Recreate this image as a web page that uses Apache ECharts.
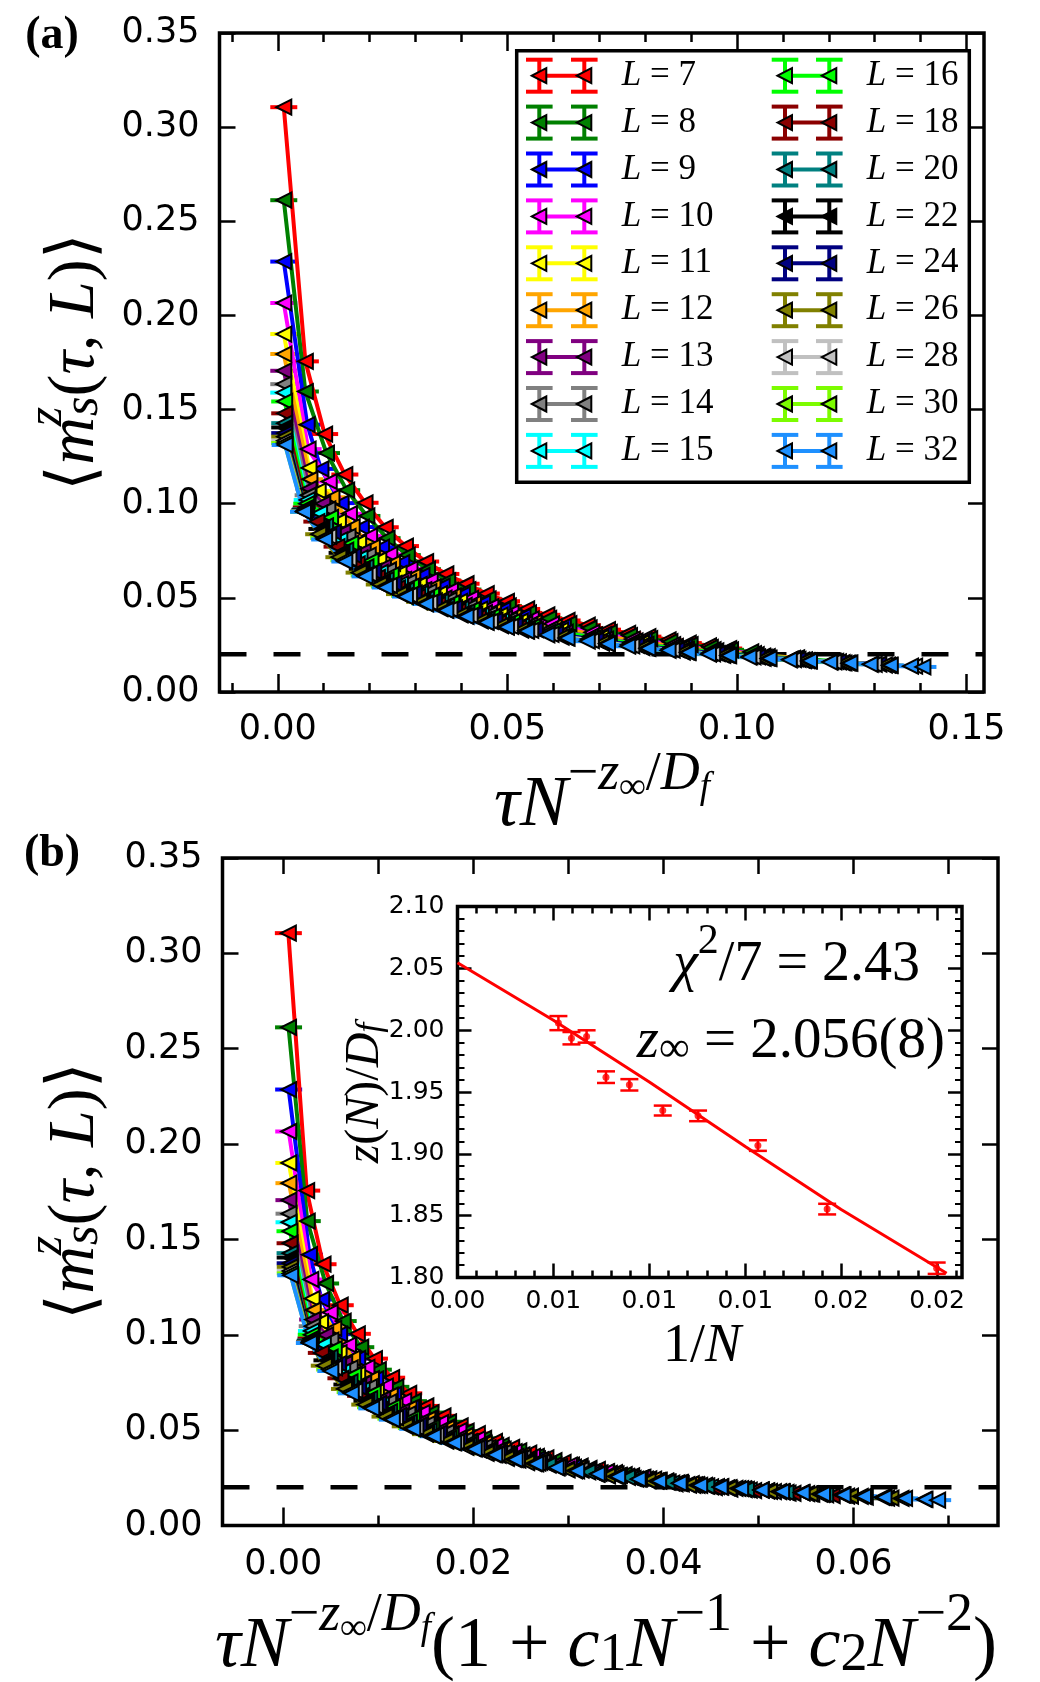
<!DOCTYPE html>
<html>
<head>
<meta charset="utf-8">
<script src="https://cdn.jsdelivr.net/npm/echarts@6/dist/echarts.min.js"></script>
<style>
  html, body { margin: 0; padding: 0; background: #fff; }
  #chart { width: 1040px; height: 1682px; }
</style>
</head>
<body>
<div id="chart"></div>
<script>
// system sizes and their (matplotlib) colours
const sizes = [7, 8, 9, 10, 11, 12, 13, 14, 15, 16, 18, 20, 22, 24, 26, 28, 30, 32];
const colors = ['#ff0000', '#008000', '#0000ff', '#ff00ff', '#ffff00', '#ffa500', '#800080', '#808080', '#00ffff',
  '#00ff00', '#8b0000', '#008080', '#000000', '#000080', '#808000', '#c0c0c0', '#7cfc00', '#1e90ff'];

// panel (a): tau N^{-z/Df}, one row per L
const xScaledA = [
  [.0013,.006,.0102,.0146,.019,.0234,.0278,.0322,.0366,.041,.0454,.0498,.0542,.0586,.063,.0674,.0718,.0762,.0806,.085,.0894,.0938,.0982],
  [.0013,.006,.0106,.015,.0194,.0238,.0282,.0326,.037,.0414,.0458,.0502,.0546,.059,.0634,.0678,.0722,.0766,.081,.0854,.0898,.0942,.0986,.103],
  [.0013,.0064,.0094,.0138,.0182,.0226,.027,.0314,.0358,.0402,.0446,.049,.0534,.0622,.071,.0798,.0886,.0974],
  [.0013,.0066,.0112,.0156,.02,.0244,.0288,.0332,.0376,.042,.0464,.0508,.0552,.0596,.0684,.0772,.086,.0948,.1036],
  [.0013,.0068,.0088,.0132,.0176,.022,.0264,.0308,.0352,.0396,.044,.0484,.0528,.0616,.0704,.0792,.088,.0968,.1056],
  [.0013,.007,.0118,.0162,.0206,.025,.0294,.0338,.0382,.0426,.047,.0514,.0558,.0602,.069,.0778,.0866,.0954,.1042,.113],
  [.0013,.0068,.0098,.0142,.0186,.023,.0274,.0318,.0362,.0406,.045,.0494,.0538,.0626,.0714,.0802,.089,.0978,.1066],
  [.0013,.0066,.0109,.0153,.0197,.0241,.0285,.0329,.0373,.0417,.0461,.0505,.0549,.0593,.0681,.0769,.0857,.0945,.1033,.1121,.1209],
  [.0013,.0064,.0091,.0135,.0179,.0223,.0267,.0311,.0355,.0399,.0443,.0487,.0531,.0619,.0707,.0795,.0883,.0971,.1059,.1147],
  [.0015,.0063,.0115,.0159,.0203,.0247,.0291,.0335,.0379,.0423,.0467,.0511,.0555,.0599,.0687,.0775,.0863,.0951,.1039,.1127,.1215],
  [.0015,.0062,.0085,.0129,.0173,.0217,.0261,.0305,.0349,.0393,.0437,.0481,.0525,.0613,.0701,.0789,.0877,.0965,.1053,.1141,.1229],
  [.0015,.006,.0104,.0148,.0192,.0236,.028,.0324,.0368,.0412,.0456,.05,.0544,.0588,.0676,.0764,.0852,.094,.1028,.1116,.1204,.1292],
  [.0015,.0059,.0096,.014,.0184,.0228,.0272,.0316,.036,.0404,.0448,.0492,.0536,.0624,.0712,.08,.0888,.0976,.1064,.1152,.124,.1328],
  [.0015,.0058,.0121,.0165,.0209,.0253,.0297,.0341,.0385,.0429,.0473,.0517,.0561,.0605,.0693,.0781,.0869,.0957,.1045,.1133,.1221,.1309],
  [.0015,.0058,.0089,.0133,.0177,.0221,.0265,.0309,.0353,.0397,.0441,.0485,.0529,.0617,.0705,.0793,.0881,.0969,.1057,.1145,.1233,.1321],
  [.0015,.0057,.0111,.0155,.0199,.0243,.0287,.0331,.0375,.0419,.0463,.0507,.0551,.0595,.0683,.0771,.0859,.0947,.1035,.1123,.1211,.1299,.1387],
  [.0015,.0057,.01,.0144,.0188,.0232,.0276,.032,.0364,.0408,.0452,.0496,.054,.0628,.0716,.0804,.0892,.098,.1068,.1156,.1244,.1332],
  [.0016,.0056,.0102,.0146,.019,.0234,.0278,.0322,.0366,.041,.0454,.0498,.0542,.0586,.063,.0674,.0718,.0762,.0806,.085,.0894,.0938,.0982,.1026,.107,.1114,.1158,.1202,.1246,.129,.1334,.1378,.1405]
];

// panel (b): tau N^{-z/Df}(1 + c1/N + c2/N^2)
const xScaledB = [
  [.00053,.00246,.00418,.00599,.00779,.00959,.0114,.0132,.015,.0168,.01861,.02042,.02222,.02403,.02583,.02763,.02944,.03124,.03305,.03485,.03665,.03846,.04026],
  [.00055,.00252,.00445,.0063,.00815,.01,.01184,.01369,.01554,.01739,.01924,.02108,.02293,.02478,.02663,.02848,.03032,.03217,.03402,.03587,.03772,.03956,.04141,.04326],
  [.00056,.00275,.00404,.00593,.00783,.00972,.01161,.0135,.01539,.01729,.01918,.02107,.02296,.02675,.03053,.03431,.0381,.04188],
  [.00057,.0029,.00493,.00686,.0088,.01074,.01267,.01461,.01654,.01848,.02042,.02235,.02429,.02622,.0301,.03397,.03784,.04171,.04558],
  [.00058,.00303,.00392,.00587,.00783,.00979,.01175,.01371,.01566,.01762,.01958,.02154,.0235,.02741,.03133,.03524,.03916,.04308,.04699],
  [.00059,.00315,.00531,.00729,.00927,.01125,.01323,.01521,.01719,.01917,.02115,.02313,.02511,.02709,.03105,.03501,.03897,.04293,.04689,.05085],
  [.00059,.00309,.00446,.00646,.00846,.01047,.01247,.01447,.01647,.01847,.02048,.02248,.02448,.02848,.03249,.03649,.0405,.0445,.0485],
  [.0006,.00304,.00501,.00704,.00906,.01109,.01311,.01513,.01716,.01918,.02121,.02323,.02525,.02728,.03133,.03537,.03942,.04347,.04752,.05157,.05561],
  [.0006,.00296,.00421,.00625,.00829,.01032,.01236,.0144,.01644,.01847,.02051,.02255,.02459,.02866,.03273,.03681,.04088,.04496,.04903,.05311],
  [.0007,.00294,.00536,.00741,.00946,.01151,.01356,.01561,.01766,.01971,.02176,.02381,.02586,.02791,.03201,.03612,.04022,.04432,.04842,.05252,.05662],
  [.00071,.00291,.004,.00606,.00813,.0102,.01227,.01434,.0164,.01847,.02054,.02261,.02468,.02881,.03295,.03708,.04122,.04536,.04949,.05363,.05776],
  [.00071,.00284,.00493,.00702,.0091,.01119,.01327,.01536,.01744,.01953,.02161,.0237,.02579,.02787,.03204,.03621,.04038,.04456,.04873,.0529,.05707,.06124],
  [.00072,.00282,.00459,.00669,.0088,.0109,.013,.0151,.01721,.01931,.02141,.02352,.02562,.02983,.03403,.03824,.04245,.04665,.05086,.05507,.05927,.06348],
  [.00072,.00279,.00582,.00794,.01005,.01217,.01429,.0164,.01852,.02063,.02275,.02487,.02698,.0291,.03333,.03757,.0418,.04603,.05026,.0545,.05873,.06296],
  [.00073,.00281,.00431,.00644,.00857,.0107,.01283,.01496,.01709,.01921,.02134,.02347,.0256,.02986,.03412,.03838,.04264,.0469,.05116,.05542,.05968,.06394],
  [.00073,.00277,.00539,.00753,.00967,.01181,.01395,.01609,.01823,.02036,.0225,.02464,.02678,.02892,.03319,.03747,.04175,.04602,.0503,.05458,.05885,.06313,.06741],
  [.00073,.00278,.00488,.00703,.00917,.01132,.01347,.01562,.01776,.01991,.02206,.0242,.02635,.03065,.03494,.03924,.04353,.04782,.05212,.05641,.06071,.065],
  [.00078,.00274,.005,.00715,.00931,.01147,.01362,.01578,.01793,.02009,.02225,.0244,.02656,.02871,.03087,.03303,.03518,.03734,.03949,.04165,.04381,.04596,.04812,.05027,.05243,.05459,.05674,.0589,.06105,.06321,.06537,.06752,.06885]
];

// <m_s^z(tau, L)>, same points in both panels
const magnetization = [
  [.3106,.1756,.137,.1155,.1005,.0875,.0775,.0693,.0627,.0575,.0523,.0482,.0441,.041,.038,.0355,.0331,.0312,.0294,.0277,.026,.0245,.0231],
  [.2612,.1596,.1269,.1072,.0935,.0817,.0727,.0652,.0592,.0544,.0495,.0457,.042,.0391,.0363,.034,.0317,.03,.0283,.0267,.0251,.0237,.0224,.0213],
  [.2286,.142,.1185,.1003,.0876,.0769,.0687,.0619,.0563,.0518,.0473,.0437,.0402,.0349,.0306,.0274,.0243,.0218],
  [.2066,.129,.1118,.0947,.0829,.0731,.0654,.0592,.054,.0497,.0454,.042,.0388,.0362,.0317,.0281,.0252,.0225,.0204],
  [.1901,.119,.1068,.0906,.0794,.0702,.063,.0571,.0522,.0481,.044,.0408,.0377,.0329,.029,.0261,.0233,.021,.0191],
  [.1795,.113,.1034,.0878,.077,.0683,.0614,.0558,.0511,.0471,.0431,.04,.037,.0346,.0304,.0271,.0243,.0219,.0199,.0181],
  [.1706,.108,.1,.085,.0747,.0664,.0598,.0544,.0499,.046,.0422,.0392,.0363,.0318,.0281,.0253,.0227,.0206,.0188],
  [.1635,.1045,.0972,.0827,.0727,.0648,.0585,.0533,.0489,.0451,.0414,.0385,.0357,.0334,.0295,.0263,.0237,.0214,.0195,.0178,.0164],
  [.159,.102,.095,.0808,.0712,.0635,.0574,.0524,.0481,.0444,.0408,.0379,.0352,.0309,.0275,.0247,.0222,.0202,.0185,.017],
  [.1543,.1,.0928,.079,.0696,.0622,.0563,.0515,.0474,.0438,.0402,.0374,.0348,.0325,.0288,.0257,.0233,.021,.0192,.0176,.0163],
  [.148,.098,.0905,.0772,.068,.0609,.0553,.0506,.0466,.0431,.0396,.0368,.0343,.0302,.0269,.0243,.0218,.0199,.0183,.0169,.0156],
  [.1428,.097,.0883,.0753,.0665,.0597,.0542,.0497,.0458,.0424,.039,.0363,.0338,.0317,.0281,.0252,.0228,.0207,.0189,.0174,.0161,.0149],
  [.1405,.0965,.0866,.0739,.0653,.0587,.0534,.049,.0452,.0418,.0385,.0359,.0335,.0295,.0263,.0238,.0215,.0197,.0181,.0167,.0154,.0143],
  [.1375,.0962,.0849,.0725,.0641,.0577,.0526,.0484,.0447,.0413,.0381,.0355,.0331,.031,.0276,.0248,.0225,.0204,.0187,.0173,.016,.0148],
  [.1356,.096,.0838,.0716,.0634,.0571,.052,.0479,.0443,.041,.0378,.0352,.0329,.0291,.026,.0235,.0212,.0195,.0179,.0166,.0154,.0143],
  [.1335,.0958,.0827,.0707,.0626,.0565,.0515,.0475,.0439,.0406,.0375,.0349,.0327,.0306,.0273,.0245,.0223,.0202,.0186,.0172,.016,.0147,.0137],
  [.1322,.0957,.0818,.07,.062,.056,.0511,.0471,.0436,.0404,.0372,.0347,.0325,.0287,.0257,.0233,.0211,.0194,.0178,.0165,.0153,.0142],
  [.1312,.0957,.081,.0693,.0614,.0555,.0507,.0468,.0433,.0401,.037,.0345,.0323,.0303,.0286,.027,.0256,.0243,.0232,.0221,.021,.0201,.0193,.0185,.0178,.0171,.0165,.0159,.0153,.0147,.0142,.0137,.0133]
];
const plateau = 0.02;

// inset: z(N)/Df against 1/N with the fit
const invN = [0.00526, 0.00594, 0.00673, 0.00774, 0.00896, 0.0107, 0.01254, 0.01566, 0.01927, 0.02498];
const zOverDf = [2.0057, 1.9935, 1.9949, 1.962, 1.9558, 1.935, 1.9307, 1.9067, 1.8553, 1.8075];
const zErr = [0.0057, 0.005, 0.005, 0.0047, 0.0046, 0.004, 0.0043, 0.0043, 0.0043, 0.0046];
const fitInvN = [0, 0.005, 0.01, 0.015, 0.02, 0.0255];
const fitZ = [2.0545, 2.008, 1.958, 1.906, 1.855, 1.8035];

// axis ranges and tick labels
const rangeA = [-0.0127, 0.1538];
const rangeB = [-0.0064, 0.0752];
const rangeIn = [0, 0.0263];
const majorA = [0, 0.05, 0.10, 0.15];
const majorB = [0, 0.02, 0.04, 0.06];
const majorIn = [0, 0.005, 0.01, 0.015, 0.02, 0.025];
const insetXLabels = ['0.00', '0.01', '0.01', '0.01', '0.02', '0.02'];

const serif = 'Liberation Serif';
const sans = 'DejaVu Sans';
const triangle = 'path://M0,50L100,0L100,100Z';

const minorA = [], minorB = [], minorIn = [];
for (let v = -1; v <= 15; v++) if (v % 5) minorA.push(v / 100);
for (let v = 1; v <= 7; v += 2) minorB.push(v / 100);
for (let v = 1; v <= 26; v++) if (v % 5) minorIn.push(v / 1000);

function grid(left, top, width, height) {
  return { left, top, width, height, show: true, borderColor: '#000', borderWidth: 3.5,
    backgroundColor: '#fff', containLabel: false, outerBoundsMode: 'none' };
}

function axis(gridIndex, position, range, opts) {
  const ax = {
    type: 'value', gridIndex, position, min: range[0], max: range[1],
    axisLine: { show: false, onZero: false }, splitLine: { show: false },
    axisTick: { show: true, inside: true, length: opts.len, lineStyle: { color: '#000', width: 2.5 } },
    axisLabel: { show: false }
  };
  if (opts.ticks) ax.axisTick.customValues = opts.ticks;
  if (opts.interval) ax.interval = opts.interval;
  if (opts.minor) ax.minorTick = { show: true, splitNumber: 5, length: opts.minor, lineStyle: { color: '#000', width: 2 } };
  if (opts.label) {
    ax.axisLabel = { show: true, color: '#000', fontFamily: sans, fontSize: opts.label.size,
      margin: opts.label.margin, formatter: opts.label.fmt };
    if (opts.ticks) ax.axisLabel.customValues = opts.ticks;
  }
  return ax;
}

const fix2 = v => v.toFixed(2);
const insetFmt = v => {
  const i = majorIn.findIndex(t => Math.abs(t - v) < 1e-9);
  return i < 0 ? '' : insetXLabels[i];
};

const xAxes = [
  axis(0, 'bottom', rangeA, { ticks: majorA, len: 18, label: { size: 35, margin: 20, fmt: fix2 } }),
  axis(0, 'bottom', rangeA, { ticks: minorA, len: 9 }),
  axis(0, 'top', rangeA, { ticks: majorA, len: 18 }),
  axis(0, 'top', rangeA, { ticks: minorA, len: 9 }),
  axis(1, 'bottom', rangeB, { ticks: majorB, len: 18, label: { size: 35, margin: 22, fmt: fix2 } }),
  axis(1, 'bottom', rangeB, { ticks: minorB, len: 10 }),
  axis(1, 'top', rangeB, { ticks: majorB, len: 16 }),
  axis(1, 'top', rangeB, { ticks: minorB, len: 16 }),
  axis(2, 'bottom', rangeIn, { ticks: majorIn, len: 14, label: { size: 25, margin: 11, fmt: insetFmt } }),
  axis(2, 'bottom', rangeIn, { ticks: minorIn, len: 7 }),
  axis(2, 'top', rangeIn, { ticks: majorIn, len: 14 }),
  axis(2, 'top', rangeIn, { ticks: minorIn, len: 7 })
];
const yAxes = [
  axis(0, 'left', [0, 0.35], { interval: 0.05, len: 16, label: { size: 35, margin: 20, fmt: fix2 } }),
  axis(0, 'right', [0, 0.35], { interval: 0.05, len: 16 }),
  axis(1, 'left', [0, 0.35], { interval: 0.05, len: 16, label: { size: 35, margin: 20, fmt: fix2 } }),
  axis(1, 'right', [0, 0.35], { interval: 0.05, len: 16 }),
  axis(2, 'left', [1.8, 2.1], { interval: 0.05, len: 14, minor: 7, label: { size: 25, margin: 13, fmt: fix2 } }),
  axis(2, 'right', [1.8, 2.1], { interval: 0.05, len: 14, minor: 7 })
];

// y-error caps: tiny errors, so both caps merge into one short dash
function capSeries(xi, yi, pts, color) {
  return {
    type: 'custom', xAxisIndex: xi, yAxisIndex: yi, data: pts, silent: true,
    renderItem: (params, api) => {
      const p = api.coord([api.value(0), api.value(1)]);
      return { type: 'line', shape: { x1: p[0] - 13.5, y1: p[1], x2: p[0] + 13.5, y2: p[1] },
        style: { stroke: color, lineWidth: 4 } };
    }
  };
}
function curveSeries(xi, yi, pts, color) {
  return {
    type: 'line', xAxisIndex: xi, yAxisIndex: yi, data: pts, silent: true,
    symbol: triangle, symbolSize: [15, 15], showSymbol: true, showAllSymbol: true,
    itemStyle: { color, borderColor: '#000', borderWidth: 2 },
    lineStyle: { color, width: 4 }
  };
}

const series = [];
[[0, 0, xScaledA, rangeA], [4, 2, xScaledB, rangeB]].forEach(([xi, yi, xs, range]) => {
  series.push({
    type: 'line', xAxisIndex: xi, yAxisIndex: yi, silent: true, symbol: 'none',
    data: [[range[0], plateau], [range[1], plateau]],
    lineStyle: { color: '#000', width: 4.5, type: [27, 27] }
  });
  sizes.forEach((L, i) => {
    const pts = xs[i].map((x, j) => [x, magnetization[i][j]]);
    series.push(capSeries(xi, yi, pts, colors[i]));
    series.push(curveSeries(xi, yi, pts, colors[i]));
  });
});

// inset
series.push({
  type: 'line', xAxisIndex: 8, yAxisIndex: 4, silent: true, symbol: 'none',
  data: fitInvN.map((x, i) => [x, fitZ[i]]), lineStyle: { color: '#ff0000', width: 3 }
});
series.push({
  type: 'custom', xAxisIndex: 8, yAxisIndex: 4, silent: true,
  data: invN.map((x, i) => [x, zOverDf[i], zErr[i]]),
  renderItem: (params, api) => {
    const x = api.value(0), y = api.value(1), e = api.value(2);
    const hi = api.coord([x, y + e]), lo = api.coord([x, y - e]);
    const st = { stroke: '#ff0000', lineWidth: 2.5 };
    return { type: 'group', children: [
      { type: 'line', shape: { x1: hi[0], y1: hi[1], x2: lo[0], y2: lo[1] }, style: st },
      { type: 'line', shape: { x1: hi[0] - 9, y1: hi[1], x2: hi[0] + 9, y2: hi[1] }, style: st },
      { type: 'line', shape: { x1: lo[0] - 9, y1: lo[1], x2: lo[0] + 9, y2: lo[1] }, style: st }
    ] };
  }
});
series.push({
  type: 'scatter', xAxisIndex: 8, yAxisIndex: 4, silent: true, symbol: 'circle', symbolSize: 7,
  data: invN.map((x, i) => [x, zOverDf[i]]), itemStyle: { color: '#ff0000' }
});

// math-style rich text
function mathRich(s) {
  const sp = Math.round(s * 0.75), ss = Math.round(s * 0.52), lh = Math.round(s * 1.3);
  return {
    m: { fontFamily: serif, fontStyle: 'italic', fontSize: s, lineHeight: lh, verticalAlign: 'bottom' },
    r: { fontFamily: serif, fontSize: s, lineHeight: lh, verticalAlign: 'bottom' },
    p: { fontFamily: serif, fontStyle: 'italic', fontSize: sp, lineHeight: sp, verticalAlign: 'top' },
    ps: { fontFamily: serif, fontStyle: 'italic', fontSize: sp, lineHeight: sp, verticalAlign: 'top', width: 1 },
    pr: { fontFamily: serif, fontSize: sp, lineHeight: sp, verticalAlign: 'top' },
    pp: { fontFamily: serif, fontStyle: 'italic', fontSize: ss, lineHeight: ss, verticalAlign: 'top',
      padding: [Math.round(s * 0.3), 0, 0, 0] },
    b: { fontFamily: serif, fontSize: sp, lineHeight: Math.round(sp * 0.9), verticalAlign: 'bottom' },
    bi: { fontFamily: serif, fontStyle: 'italic', fontSize: sp, lineHeight: Math.round(sp * 0.9), verticalAlign: 'bottom' }
  };
}
function mathText(text, x, y, size, extra) {
  return Object.assign({
    type: 'text', x, y, z: 100, silent: true,
    style: { text, rich: mathRich(size), fill: '#000', align: 'center', verticalAlign: 'middle' }
  }, extra || {});
}

const yTitle = '{r|⟨}{m|m}{ps|z}{bi|s}{r|(}{m|τ}{r|, }{m|L}{r|)⟩}';
const xExp = '{m|τN}{pr|−}{p|z}{pp|∞}{pr|/}{p|D}{pp|f}';

const graphics = [
  { type: 'text', x: 52, y: 36, z: 100, silent: true,
    style: { text: '(a)', font: 'bold 46px ' + serif, fill: '#000', align: 'center', verticalAlign: 'middle' } },
  { type: 'text', x: 52, y: 854, z: 100, silent: true,
    style: { text: '(b)', font: 'bold 46px ' + serif, fill: '#000', align: 'center', verticalAlign: 'middle' } },
  mathText(yTitle, 66, 362, 66, { rotation: Math.PI / 2 }),
  mathText(yTitle, 66, 1191, 66, { rotation: Math.PI / 2 }),
  mathText(xExp, 602, 795, 72),
  mathText(xExp + '{r|(1 + }{m|c}{b|1}{m|N}{pr|−1}{r| + }{m|c}{b|2}{m|N}{pr|−2}{r|)}', 606, 1636, 72),
  mathText('{m|z}{r|(}{m|N}{r|)/}{m|D}{bi|f}', 358, 1093, 48, { rotation: Math.PI / 2 }),
  mathText('{r|1/}{m|N}', 702, 1339, 54),
  mathText('{m|χ}{pr|2}{r|/7 = 2.43}', 920, 957, 56, {}),
  mathText('{m|z}{b|∞}{r| = 2.056(8)}', 945, 1034, 57, {})
];
graphics[8].style.align = 'right';
graphics[9].style.align = 'right';

// legend of panel (a), drawn like the matplotlib errorbar handles
const box = { x: 516.7, y: 50.7, w: 452.6, h: 431.6 };
const legendCols = [{ a: 539.3, b: 584.3, t: 621.7 }, { a: 785, b: 829.3, t: 866.7 }];
graphics.push({ type: 'rect', z: 90, silent: true, shape: { x: box.x, y: box.y, width: box.w, height: box.h },
  style: { fill: '#fff', stroke: '#000', lineWidth: 3.5 } });
sizes.forEach((L, i) => {
  const col = legendCols[i < 9 ? 0 : 1];
  const y = 75.7 + (i % 9) * 46.9;
  const c = colors[i];
  const st = { stroke: c, lineWidth: 4 };
  [col.a, col.b].forEach(x => {
    graphics.push({ type: 'line', z: 91, silent: true, shape: { x1: x, y1: y - 16, x2: x, y2: y + 16 }, style: st });
    graphics.push({ type: 'line', z: 91, silent: true, shape: { x1: x - 13.3, y1: y - 16, x2: x + 13.3, y2: y - 16 }, style: st });
    graphics.push({ type: 'line', z: 91, silent: true, shape: { x1: x - 13.3, y1: y + 16, x2: x + 13.3, y2: y + 16 }, style: st });
  });
  graphics.push({ type: 'line', z: 92, silent: true, shape: { x1: col.a, y1: y, x2: col.b, y2: y }, style: st });
  [col.a, col.b].forEach(x => {
    graphics.push({ type: 'polygon', z: 93, silent: true,
      shape: { points: [[x - 7.5, y], [x + 7, y - 7.5], [x + 7, y + 7.5]] },
      style: { fill: c, stroke: '#000', lineWidth: 2 } });
  });
  graphics.push({ type: 'text', z: 93, silent: true, x: col.t, y: y,
    style: { text: '{i|L}{r| = ' + L + '}', fill: '#000', align: 'left', verticalAlign: 'middle',
      rich: { i: { fontFamily: serif, fontStyle: 'italic', fontSize: 35 }, r: { fontFamily: serif, fontSize: 35 } } } });
});

const chart = echarts.init(document.getElementById('chart'));
chart.setOption({
  animation: false,
  backgroundColor: '#fff',
  textStyle: { fontFamily: sans },
  grid: [grid(219.5, 33, 764.5, 659), grid(222.5, 858, 775.5, 667.5), grid(457.5, 906.5, 504.5, 371)],
  xAxis: xAxes,
  yAxis: yAxes,
  series: series,
  graphic: graphics
});
</script>
</body>
</html>
